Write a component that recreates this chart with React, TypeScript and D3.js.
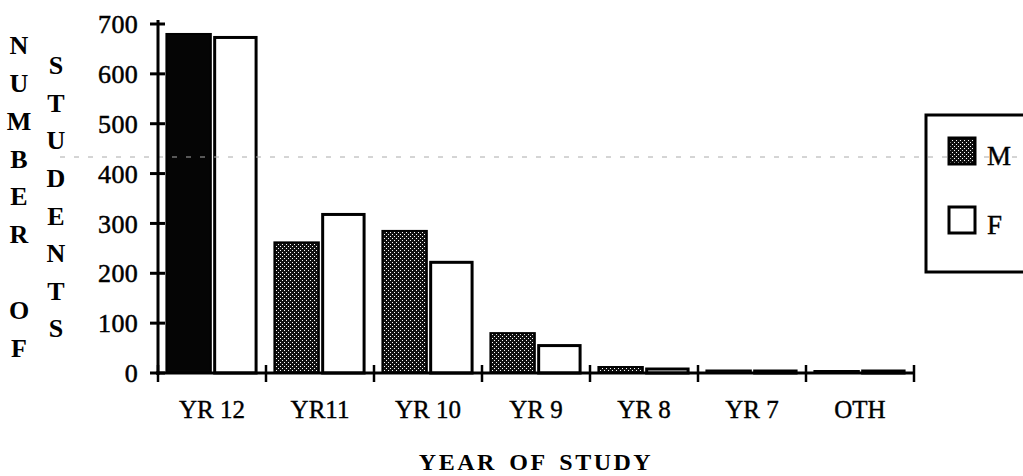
import React, { useEffect, useRef } from "react";
import * as d3 from "d3";

const categories = ["YR 12", "YR11", "YR 10", "YR 9", "YR 8", "YR 7", "OTH"];
const maleValues = [680, 262, 285, 80, 12, 5, 4];
const femaleValues = [673, 318, 222, 55, 8, 4, 4];
const yTicks = [0, 100, 200, 300, 400, 500, 600, 700];
const leftLabel = ["N", "U", "M", "B", "E", "R", "", "O", "F"];
const rightLabel = ["S", "T", "U", "D", "E", "N", "T", "S"];

function StudentsChart() {
  const ref = useRef<SVGSVGElement>(null);

  useEffect(() => {
    const width = 1023;
    const height = 476;
    const svg = d3.select(ref.current).attr("width", width).attr("height", height);
    svg.selectAll("*").remove();

    const serif = "'Liberation Serif', 'Times New Roman', serif";

    // stipple pattern for the male bars
    const defs = svg.append("defs");
    const pat = defs
      .append("pattern")
      .attr("id", "stipple")
      .attr("patternUnits", "userSpaceOnUse")
      .attr("width", 4)
      .attr("height", 4);
    pat.append("rect").attr("width", 4).attr("height", 4).attr("fill", "#111");
    pat.append("rect").attr("x", 0).attr("y", 0).attr("width", 1).attr("height", 1).attr("fill", "#fff");
    pat.append("rect").attr("x", 2).attr("y", 2).attr("width", 1).attr("height", 1).attr("fill", "#fff");

    const x0 = d3.scaleBand<string>().domain(categories).range([158, 914]);
    const x1 = d3
      .scaleBand<string>()
      .domain(["M", "F"])
      .range([0, x0.bandwidth()])
      .paddingInner(0.05)
      .paddingOuter(0.18);
    const y = d3.scaleLinear().domain([0, 700]).range([373, 24]);

    const rows = categories.map((c, i) => ({ cat: c, M: maleValues[i], F: femaleValues[i] }));

    // bars
    const groups = svg
      .append("g")
      .selectAll("g")
      .data(rows)
      .join("g")
      .attr("transform", d => `translate(${x0(d.cat)},0)`);

    groups
      .append("rect")
      .attr("x", x1("M")!)
      .attr("y", d => y(d.M))
      .attr("width", x1.bandwidth())
      .attr("height", d => y(0) - y(d.M))
      .attr("fill", (d, i) => (i === 0 ? "#050505" : "url(#stipple)"))
      .attr("stroke", "#000")
      .attr("stroke-width", 2);

    groups
      .append("rect")
      .attr("x", x1("F")! + 1.5)
      .attr("y", d => y(d.F))
      .attr("width", x1.bandwidth() - 3)
      .attr("height", d => y(0) - y(d.F))
      .attr("fill", "#fff")
      .attr("stroke", "#000")
      .attr("stroke-width", 3);

    // faint scan streak across the page
    svg
      .append("line")
      .attr("x1", 60)
      .attr("x2", 1023)
      .attr("y1", 157)
      .attr("y2", 157)
      .attr("stroke", "#aaa")
      .attr("stroke-width", 1)
      .attr("stroke-dasharray", "5 9");

    // y axis
    const yAxis = svg.append("g").attr("font-family", serif);
    yAxis
      .append("line")
      .attr("x1", 158)
      .attr("x2", 158)
      .attr("y1", 20)
      .attr("y2", y(0) + 2)
      .attr("stroke", "#000")
      .attr("stroke-width", 3);
    yAxis
      .selectAll("line.tick")
      .data(yTicks)
      .join("line")
      .attr("class", "tick")
      .attr("x1", 150)
      .attr("x2", 165)
      .attr("y1", d => y(d))
      .attr("y2", d => y(d))
      .attr("stroke", "#000")
      .attr("stroke-width", 3);
    yAxis
      .selectAll("text")
      .data(yTicks)
      .join("text")
      .attr("x", 138)
      .attr("y", d => y(d))
      .attr("dy", "0.35em")
      .attr("text-anchor", "end")
      .attr("font-size", 26)
      .attr("letter-spacing", 0.3)
      .attr("stroke", "#000")
      .attr("stroke-width", 0.5)
      .text(d => d);

    // x axis
    const xAxis = svg.append("g").attr("font-family", serif);
    xAxis
      .append("line")
      .attr("x1", 156)
      .attr("x2", 914)
      .attr("y1", y(0))
      .attr("y2", y(0))
      .attr("stroke", "#000")
      .attr("stroke-width", 3);
    const bounds = [...categories.map(c => x0(c)!), 914];
    xAxis
      .selectAll("line.tick")
      .data(bounds)
      .join("line")
      .attr("class", "tick")
      .attr("x1", d => d)
      .attr("x2", d => d)
      .attr("y1", y(0) - 8)
      .attr("y2", y(0) + 9)
      .attr("stroke", "#000")
      .attr("stroke-width", 2.5);
    xAxis
      .selectAll("text")
      .data(categories)
      .join("text")
      .attr("x", d => x0(d)! + x0.bandwidth() / 2)
      .attr("y", 418)
      .attr("text-anchor", "middle")
      .attr("font-size", 25)
      .attr("stroke", "#000")
      .attr("stroke-width", 0.4)
      .text(d => d);

    // axis titles
    const titles = svg
      .append("g")
      .attr("font-family", serif)
      .attr("font-weight", "bold")
      .attr("font-size", 26)
      .attr("text-anchor", "middle");
    titles
      .append("text")
      .attr("x", 536)
      .attr("y", 470)
      .attr("font-size", 24)
      .attr("letter-spacing", 2.5)
      .attr("word-spacing", 4)
      .text("YEAR OF STUDY");
    titles
      .selectAll("text.l")
      .data(leftLabel)
      .join("text")
      .attr("class", "l")
      .attr("x", 19)
      .attr("y", (d, i) => 45 + i * 37.8)
      .attr("dy", "0.35em")
      .text(d => d);
    titles
      .selectAll("text.r")
      .data(rightLabel)
      .join("text")
      .attr("class", "r")
      .attr("x", 56)
      .attr("y", (d, i) => 65 + i * 37.6)
      .attr("dy", "0.35em")
      .text(d => d);

    // legend
    const legend = svg.append("g").attr("font-family", serif).attr("font-size", 27);
    legend
      .append("rect")
      .attr("x", 926)
      .attr("y", 115)
      .attr("width", 130)
      .attr("height", 157)
      .attr("fill", "none")
      .attr("stroke", "#000")
      .attr("stroke-width", 3);
    const items = [
      { key: "M", fill: "url(#stipple)", y: 151 },
      { key: "F", fill: "#fff", y: 220 }
    ];
    const item = legend.selectAll("g").data(items).join("g");
    item
      .append("rect")
      .attr("x", 949)
      .attr("y", d => d.y - 13)
      .attr("width", 26)
      .attr("height", 26)
      .attr("fill", d => d.fill)
      .attr("stroke", "#000")
      .attr("stroke-width", 3);
    item
      .append("text")
      .attr("x", 987)
      .attr("y", d => d.y + 5)
      .attr("dy", "0.35em")
      .attr("stroke", "#000")
      .attr("stroke-width", 0.4)
      .text(d => d.key);
  }, []);

  return <svg ref={ref} style={{ position: "absolute", left: 0, top: 0, background: "#fff" }}></svg>;
}

export default function App() {
  return <StudentsChart />;
}
